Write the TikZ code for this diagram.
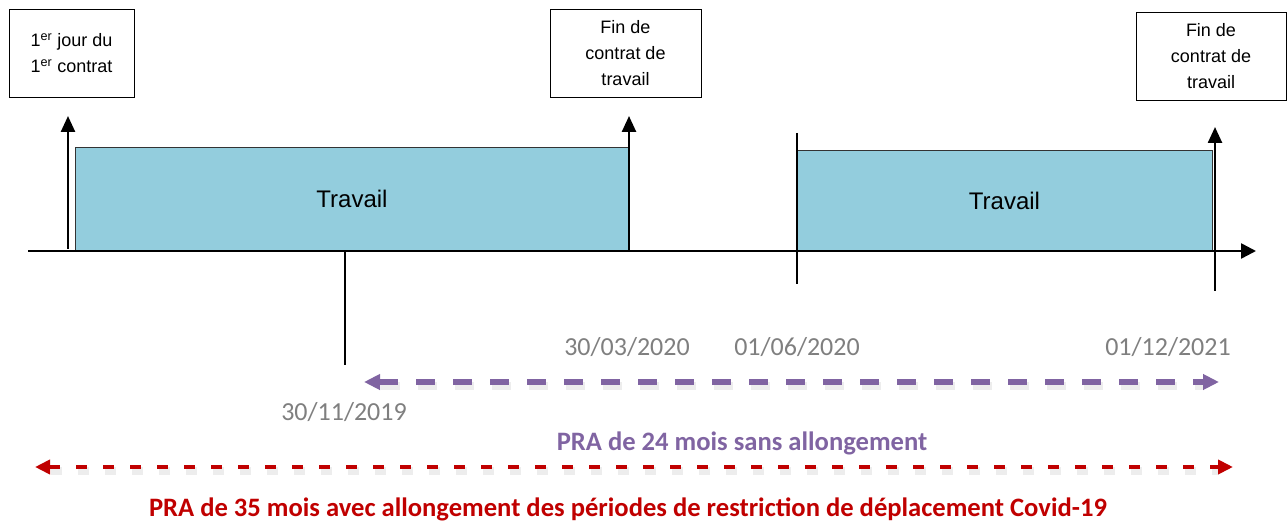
\documentclass[tikz,border=0pt]{standalone}
\usepackage{fontspec}
\setmainfont{Liberation Sans}
\newfontfamily\calibri{Carlito}
\usetikzlibrary{arrows.meta}
\usetikzlibrary{positioning}

\definecolor{bleu}{HTML}{93CDDD}
\definecolor{violet}{HTML}{8064A2}
\definecolor{rouge}{HTML}{C00000}
\definecolor{gris}{HTML}{7F7F7F}

\tikzset{
  boite/.style={draw, line width=0.9pt, minimum height=88, align=center,
    font=\fontsize{18}{26}\selectfont},
  periode/.style={draw=black!80, line width=0.9pt, fill=bleu,
    font=\fontsize{24}{28}\selectfont},
  fleche/.style={line width=2.5pt, -{Triangle[length=16,width=14]}},
  date/.style={text=gris, font=\calibri\fontsize{26}{30}\selectfont},
  ombre/.style={draw=black, opacity=0.07, line width=8pt},
}

\begin{document}
\begin{tikzpicture}[x=1pt, y=-1pt]
    \useasboundingbox (0,0) rectangle (1288,521);

    % boites du haut
    \node[boite, minimum width=125] (premier) at (71.5,53) {1\textsuperscript{er} jour du\\1\textsuperscript{er} contrat};
    \node[boite, minimum width=151] (fin1) at (625.5,53) {Fin de\\contrat de\\travail};
    \node[boite, minimum width=150] (fin2) at (1211,56) {Fin de\\contrat de\\travail};

    % periodes de travail
    \node[periode, minimum width=554, minimum height=103] (travail1) at (352,198.5) {Travail};
    \node[periode, minimum width=415, minimum height=101] (travail2) at (1004.5,200.5) {Travail};

    % axe du temps
    \coordinate (axeg) at (28,251);
    \coordinate (axed) at (1256,251);
    \draw[line width=2.5pt, -{Triangle[length=15,width=15]}] (axeg) -- (axed);

    \coordinate (d0) at (68,249);
    \coordinate (h0) at (68,116);
    \coordinate (d1) at (629,251);
    \coordinate (h1) at (629,116);
    \coordinate (d2) at (1215,291);
    \coordinate (h2) at (1215,127);
    \draw[fleche] (d0) -- (h0);
    \draw[fleche] (d1) -- (h1);
    \draw[fleche] (d2) -- (h2);

    \coordinate (t1h) at (345,251);
    \coordinate (t1b) at (345,365);
    \coordinate (t2h) at (797,133);
    \coordinate (t2b) at (797,284);
    \draw[line width=1.6pt] (t1h) -- (t1b);
    \draw[line width=1.6pt] (t2h) -- (t2b);

    % dates
    \node[date] (date1) at (627,347) {30/03/2020};
    \node[date] (date2) at (797,347) {01/06/2020};
    \node[date] (date3) at (1168,347) {01/12/2021};
    \node[date] (date0) at (344,412) {30/11/2019};

    % PRA sans allongement
    \coordinate (vg) at (364,382);
    \coordinate (vd) at (1219,382);
    \draw[ombre, dash pattern=on 19 off 18, shorten <=16, shorten >=16] ([shift={(1,4)}]vg) -- ([shift={(1,4)}]vd);
    \draw[violet, line width=5.5pt, dash pattern=on 19 off 18,
      {Triangle[length=16,width=15]}-{Triangle[length=16,width=15]}] (vg) -- (vd);
    \node[text=violet, font=\calibri\bfseries\fontsize{26.6}{30}\selectfont] (pra24) at (742,443) {PRA de 24 mois sans allongement};

    % PRA avec allongement
    \coordinate (rg) at (35,467);
    \coordinate (rd) at (1233,467);
    \draw[ombre, dash pattern=on 11 off 16, shorten <=15, shorten >=15] ([shift={(1,4)}]rg) -- ([shift={(1,4)}]rd);
    \draw[rouge, line width=4pt, dash pattern=on 11 off 16,
      {Triangle[length=15,width=14]}-{Triangle[length=15,width=14]}] (rg) -- (rd);
    \node[text=rouge, font=\calibri\bfseries\fontsize{26.6}{30}\selectfont] (pra35) at (628,509) {PRA de 35 mois avec allongement des périodes de restriction de déplacement Covid-19};
\end{tikzpicture}
\end{document}
